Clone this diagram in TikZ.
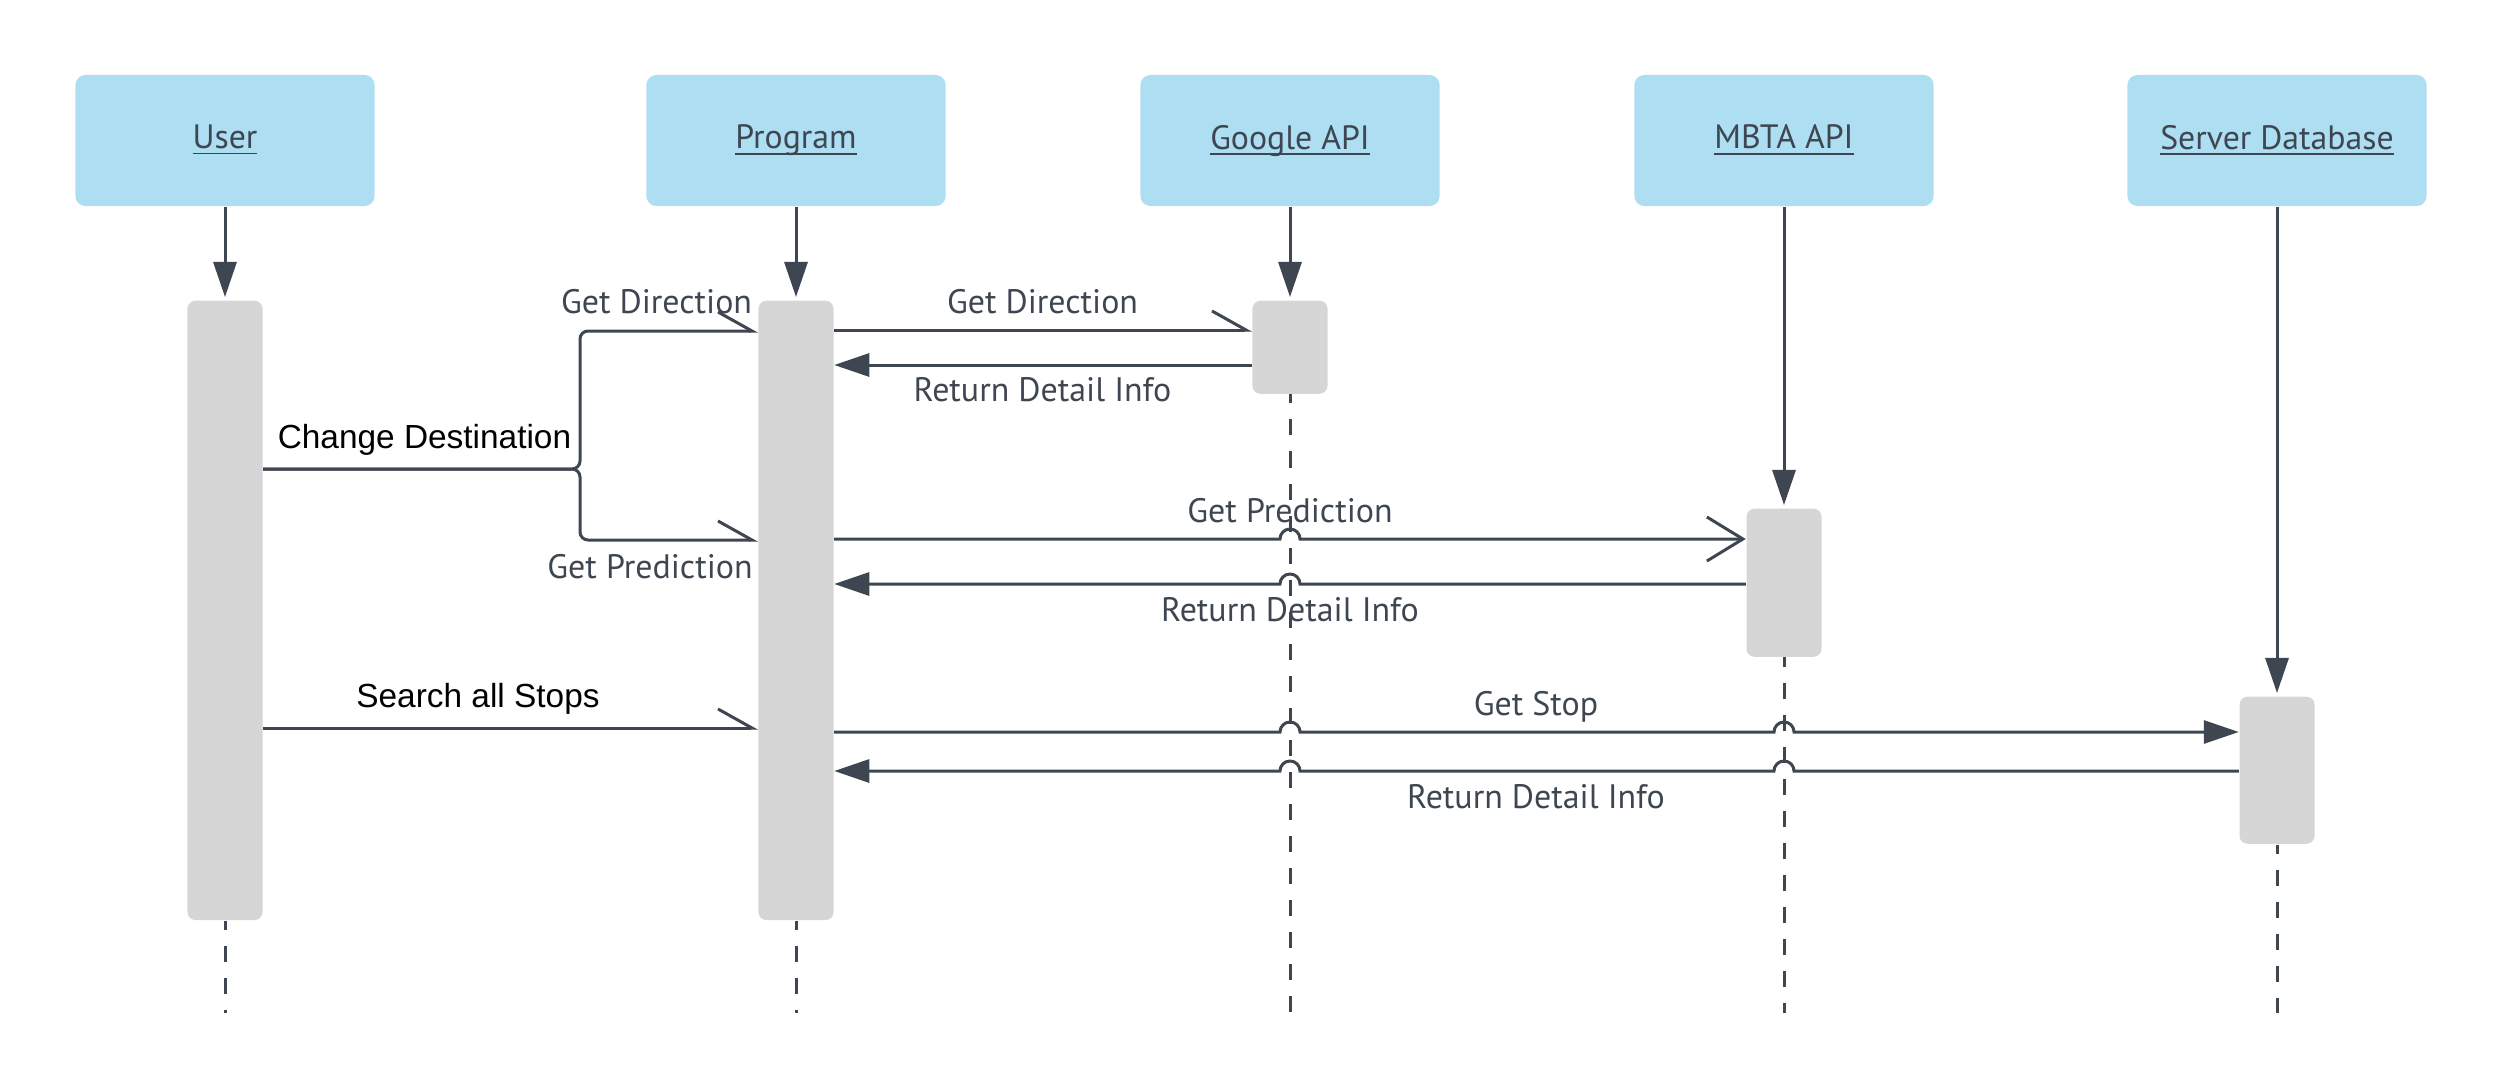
\documentclass[tikz,border=0pt]{standalone}
\usepackage{fontspec}
\setmainfont{PT Sans}
\newfontfamily\arialfont{Liberation Sans}
\usetikzlibrary{arrows.meta,calc}
\definecolor{hdrblue}{RGB}{173,222,242}
\definecolor{bargray}{RGB}{214,214,214}
\definecolor{ink}{RGB}{61,70,81}
\begin{document}
\begin{tikzpicture}[x=0.01cm,y=-0.01cm,
 hdr/.style={fill=hdrblue, rounded corners=0.1cm, minimum width=2.99cm, minimum height=1.31cm, inner sep=0pt, text=ink, font=\fontsize{9.6}{11}\selectfont},
 actbar/.style={fill=bargray, rounded corners=0.08cm, minimum width=0.75cm, inner sep=0pt, anchor=north},
 msg/.style={draw=ink, line width=0.03cm},
 filltip/.style={-{Triangle[length=0.35cm,width=0.23cm]}},
 opentip/.style={-{Straight Barb[length=0.36cm,width=0.44cm]}},
 halftip/.style={-{Straight Barb[harpoon,length=0.34cm,width=0.38cm]}},
 lifedash/.style={draw=ink, line width=0.03cm, dash pattern=on 0.16cm off 0.16cm, dash phase=0.07cm},
 lbl/.style={anchor=base, inner sep=0pt, text=ink, font=\fontsize{9.65}{11}\selectfont},
 blbl/.style={anchor=base, inner sep=0pt, text=black, font=\arialfont\fontsize{9.5}{11}\selectfont},
]
\useasboundingbox (0,0) rectangle (2503,1088);

% headers
\node[hdr] (user) at (225,140.5) {\underbar{User}};
\node[hdr] (prog) at (796,140.5) {\underbar{Program}};
\node[hdr] (goog) at (1290,140.5) {\underbar{Google API}};
\node[hdr] (mbta) at (1784,140.5) {\underbar{MBTA API}};
\node[hdr] (serv) at (2277,140.5) {\underbar{Server Database}};

% activation bars
\node[actbar, minimum height=6.19cm] (ubar) at (225,300) {};
\node[actbar, minimum height=6.19cm] (pbar) at (796,300) {};
\node[actbar, minimum height=0.93cm] (gbar) at (1290,300) {};
\node[actbar, minimum height=1.48cm] (mbar) at (1784,508) {};
\node[actbar, minimum height=1.47cm] (sbar) at (2277,696) {};

% lifelines
\foreach \h/\b in {user/ubar,prog/pbar,goog/gbar,mbta/mbar,serv/sbar}{
  \draw[msg,filltip,shorten >=0.03cm] (\h.south) -- (\b.north);
}
\coordinate (lend) at (0,1013);
\foreach \b in {ubar,pbar,gbar,mbar,sbar}{
  \draw[lifedash] (\b.south) -- (\b.south |- lend);
}

% message rows
\coordinate (gd) at (0,330);
\coordinate (rd) at (0,365);
\coordinate (gdl) at (0,331);
\coordinate (gpl) at (0,540);
\coordinate (gp) at (0,539);
\coordinate (rp) at (0,584);
\coordinate (sa) at (0,728);
\coordinate (gs) at (0,732);
\coordinate (rs) at (0,771);
\coordinate (brk) at (580,469);

% bracket from user
\draw[msg,halftip,rounded corners=0.08cm] (ubar.east |- brk) -- (brk) -- (brk |- gdl) -- (pbar.west |- gdl);
\draw[msg,halftip,rounded corners=0.08cm] (ubar.east |- brk) -- (brk) -- (brk |- gpl) -- (pbar.west |- gpl);
\draw[msg,halftip] (ubar.east |- sa) -- (pbar.west |- sa);

% program <-> google
\draw[msg,halftip] (pbar.east |- gd) -- (gbar.west |- gd);
\draw[msg,filltip] (gbar.west |- rd) -- (pbar.east |- rd);

% program <-> mbta
\draw[msg,opentip] (pbar.east |- gp) -- ($(gbar.south |- gp)+(-10,0)$) arc[start angle=180,end angle=0,radius=0.1cm] -- (mbar.west |- gp);
\draw[msg,filltip] (mbar.west |- rp) -- ($(gbar.south |- rp)+(10,0)$) arc[start angle=0,end angle=180,radius=0.1cm] -- (pbar.east |- rp);

% program <-> server
\draw[msg,filltip] (pbar.east |- gs) -- ($(gbar.south |- gs)+(-10,0)$) arc[start angle=180,end angle=0,radius=0.1cm]
  -- ($(mbar.south |- gs)+(-10,0)$) arc[start angle=180,end angle=0,radius=0.1cm] -- (sbar.west |- gs);
\draw[msg,filltip] (sbar.west |- rs) -- ($(mbar.south |- rs)+(10,0)$) arc[start angle=0,end angle=180,radius=0.1cm]
  -- ($(gbar.south |- rs)+(10,0)$) arc[start angle=0,end angle=180,radius=0.1cm] -- (pbar.east |- rs);

% labels
\node[lbl] (lgd1) at (656.5,314) {Get Direction};
\node[lbl] (lgp1) at (650,578) {Get Prediction};
\node[blbl] (lcd) at (424.5,448) {Change Destination};
\node[blbl] (lsa) at (478,707) {Search all Stops};
\node[lbl] (lgd2) at (1042.5,313) {Get Direction};
\node[lbl] (lrd2) at (1042.5,401) {Return Detail Info};
\node[lbl] (lgp2) at (1290,522) {Get Prediction};
\node[lbl] (lrp2) at (1290,621) {Return Detail Info};
\node[lbl] (lgs) at (1536,715) {Get Stop};
\node[lbl] (lrs) at (1536,808) {Return Detail Info};
\end{tikzpicture}
\end{document}
